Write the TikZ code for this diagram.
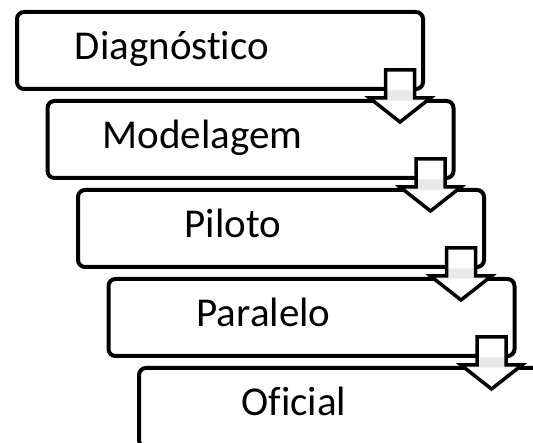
\documentclass[tikz,border=0pt]{standalone}
\usepackage{fontspec}
\setmainfont{Carlito}[Ligatures={NoCommon,NoRare}]
\usetikzlibrary{calc}
\pgfdeclareverticalshading{faixa}{100bp}{color(0bp)=(white); color(45bp)=(white); color(47bp)=(gray!18); color(55bp)=(gray!18); color(57bp)=(white); color(100bp)=(white)}
\tikzstyle{etapa}=[rectangle,draw=black,line width=4pt,rounded corners=7pt,fill=white,minimum width=406pt,minimum height=77pt,anchor=north west,inner sep=0pt]
\tikzstyle{rotulo}=[anchor=base,inner sep=0pt,font=\fontsize{41}{48}\selectfont]
\tikzstyle{seta}=[draw=black,line width=3.5pt,miter limit=10,shade,shading=faixa]

\begin{document}
\begin{tikzpicture}[x=1pt,y=-1pt]
\def \dx {30.5};
\def \dy {89};
\def \xesq {15};
\def \ytopo {10};

\clip (0,0) rectangle (533,443);

\foreach \i/\txt in {1/Diagnóstico,2/Modelagem,3/Piloto,4/Paralelo} {
	\node[etapa] (E\i) at ({\xesq+(\i-1)*\dx},{\ytopo+(\i-1)*\dy}) {};
	\node[rotulo] (T\i) at ({\xesq+(\i-1)*\dx+157},{\ytopo+50+(\i-1)*\dy}) {\txt};
};

\node[etapa,minimum width=440pt,minimum height=79pt] (E5) at ({\xesq+4*\dx},{\ytopo+4*\dy}) {};
\node[rotulo] (T5) at ({\xesq+4*\dx+157},{\ytopo+50+4*\dy}) {Oficial};

\foreach \i in {1,...,4} {
	\path (E\i.south east) ++(-25,0) coordinate (c\i);
	\draw[seta] (c\i) ++(-14.5,-21) -- ++(29,0) -- ++(0,28) -- ++(16,0) -- ++(-30.5,24) -- ++(-30.5,-24) -- ++(16,0) -- cycle;
};

\end{tikzpicture}
\end{document}
